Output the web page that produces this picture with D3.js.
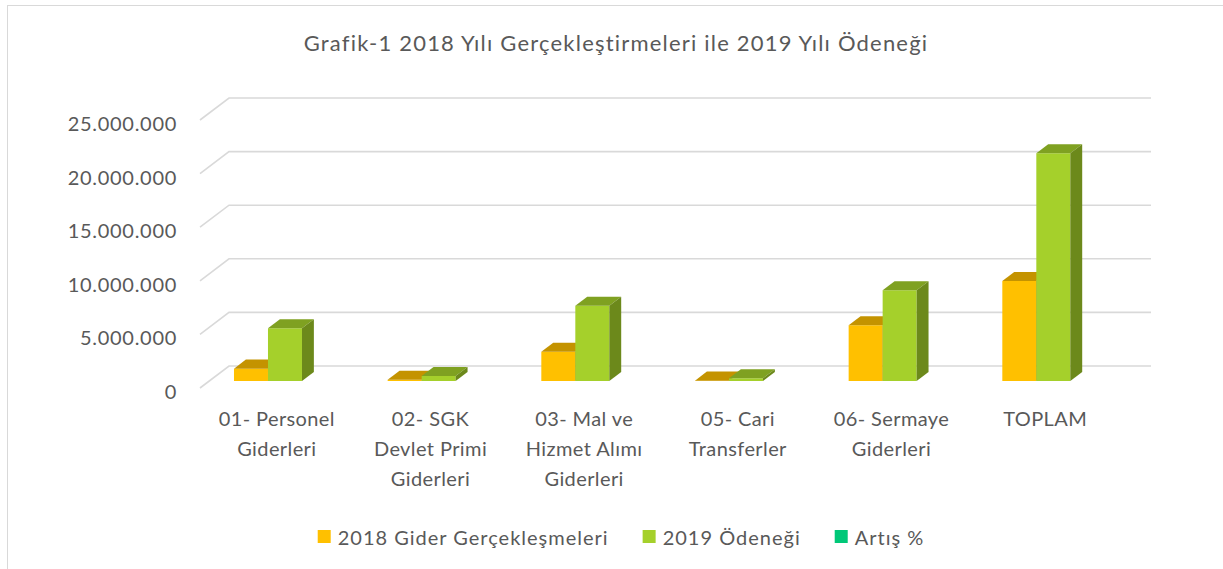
<!DOCTYPE html>
<html lang="tr">
<head>
  <meta charset="UTF-8">
  <title>Grafik-1 2018 Yılı Gerçekleştirmeleri ile 2019 Yılı Ödeneği</title>
  <script src="https://d3js.org/d3.v7.min.js"></script>
  <style>
    body {
      margin: 0;
      background: #fff;
      font-family: Lato, "Open Sans", sans-serif;
    }
    svg {
      display: block;
    }
    text {
      fill: #595959;
    }
  </style>
</head>
<body>

<div id="chart"></div>

<script>
  // Chart data
  const chartTitle = "Grafik-1 2018 Yılı Gerçekleştirmeleri ile 2019 Yılı Ödeneği";
  const categories = [
    ["01- Personel", "Giderleri"],
    ["02- SGK", "Devlet Primi", "Giderleri"],
    ["03- Mal ve", "Hizmet Alımı", "Giderleri"],
    ["05- Cari", "Transferler"],
    ["06- Sermaye", "Giderleri"],
    ["TOPLAM"]
  ];
  const gider2018 = [1150000, 110000, 2730000, 30000, 5200000, 9330000];
  const odenek2019 = [4920000, 470000, 7020000, 250000, 8460000, 21240000];
  const seriesNames = ["2018 Gider Gerçekleşmeleri", "2019 Ödeneği", "Artış %"];
  const yTicks = [0, 5000000, 10000000, 15000000, 20000000, 25000000];

  const width = 1223, height = 569;

  // colours: front / top / side for each series
  const colors = [
    {front: "#FFC000", top: "#C49300", side: "#B08400"},
    {front: "#A5D02B", top: "#7FA121", side: "#6C891B"},
    {front: "#00C878"}
  ];

  // Turkish number format: 25.000.000
  const tr = d3.formatLocale({decimal: ",", thousands: ".", grouping: [3], currency: ["₺", ""]});
  const fmt = tr.format(",");

  const svg = d3.select("#chart")
    .append("svg")
    .attr("width", width)
    .attr("height", height);

  // chart border (only top/left fall inside the window)
  svg.append("rect")
    .attr("x", 7.5).attr("y", 5.5)
    .attr("width", 1400).attr("height", 800)
    .attr("fill", "#fff")
    .attr("stroke", "#d9d9d9");

  // scales
  const x = d3.scaleBand()
    .domain(d3.range(categories.length))
    .range([200, 1122]);
  const y = d3.scaleLinear()
    .domain([0, 25000000])
    .range([388, 120]);

  // oblique depth of the floor
  const DX = 29, DY = 22;
  const P = (xw, v, z) => [xw + DX * z, y(v) - DY * z];

  // gridlines: left wall + back wall
  svg.append("g")
    .selectAll("path")
    .data(yTicks)
    .join("path")
    .attr("d", t => {
      const a = P(x.range()[0], t, 0), b = P(x.range()[0], t, 1), c = P(x.range()[1], t, 1);
      return `M${a}L${b}L${c}`;
    })
    .attr("fill", "none")
    .attr("stroke", "#d9d9d9")
    .attr("stroke-width", 1.6);

  // y axis labels
  svg.append("g")
    .selectAll("text")
    .data(yTicks)
    .join("text")
    .attr("x", 177)
    .attr("y", t => y(t) + 3)
    .attr("text-anchor", "end")
    .attr("dominant-baseline", "central")
    .style("font-size", "20px")
    .style("letter-spacing", "0.7px")
    .text(t => fmt(t));

  // 3D bars
  const zf = 0.32, zb = 0.73, barW = 34, groupOffset = 24.7;
  const bars = [];
  categories.forEach((c, i) => {
    [gider2018, odenek2019].forEach((series, s) => {
      bars.push({i, s, v: series[i]});
    });
  });

  const poly = pts => "M" + pts.map(p => p.join(",")).join("L") + "Z";

  const barG = svg.append("g")
    .selectAll("g")
    .data(bars)
    .join("g");

  barG.each(function(d) {
    const x0 = x(d.i) + groupOffset + d.s * barW, x1 = x0 + barW;
    const g = d3.select(this);
    g.append("path")
      .attr("d", poly([P(x0, 0, zf), P(x1, 0, zf), P(x1, d.v, zf), P(x0, d.v, zf)]))
      .attr("fill", colors[d.s].front);
    g.append("path")
      .attr("d", poly([P(x0, d.v, zf), P(x1, d.v, zf), P(x1, d.v, zb), P(x0, d.v, zb)]))
      .attr("fill", colors[d.s].top);
    g.append("path")
      .attr("d", poly([P(x1, 0, zf), P(x1, 0, zb), P(x1, d.v, zb), P(x1, d.v, zf)]))
      .attr("fill", colors[d.s].side);
  });

  // category labels
  const catG = svg.append("g")
    .selectAll("text")
    .data(categories)
    .join("text")
    .attr("text-anchor", "middle")
    .style("font-size", "20px")
    .style("letter-spacing", "0.4px");
  catG.selectAll("tspan")
    .data((d, i) => d.map(line => ({line, i})))
    .join("tspan")
    .attr("x", d => x(d.i) + x.bandwidth() / 2)
    .attr("y", (d, k) => 418 + k * 30)
    .attr("dominant-baseline", "central")
    .text(d => d.line);

  // title
  svg.append("text")
    .attr("x", 616)
    .attr("y", 42)
    .attr("text-anchor", "middle")
    .attr("dominant-baseline", "central")
    .style("font-size", "22px")
    .style("letter-spacing", "1.2px")
    .text(chartTitle);

  // legend, laid out from the measured text widths
  const legend = svg.append("g");
  const items = legend.selectAll("g")
    .data(seriesNames)
    .join("g");
  items.append("rect")
    .attr("width", 13).attr("height", 13)
    .attr("y", 530)
    .attr("fill", (d, i) => colors[i].front);
  items.append("text")
    .attr("x", 20)
    .attr("y", 537)
    .attr("dominant-baseline", "central")
    .style("font-size", "20px")
    .style("letter-spacing", "1px")
    .text(d => d);

  let cursor = 0;
  const offsets = [];
  items.each(function() {
    offsets.push(cursor);
    cursor += 20 + this.querySelector("text").getComputedTextLength() + 34;
  });
  const total = cursor - 34;
  const start = 621 - total / 2;
  items.attr("transform", (d, i) => `translate(${start + offsets[i]},0)`);
</script>

</body>
</html>
